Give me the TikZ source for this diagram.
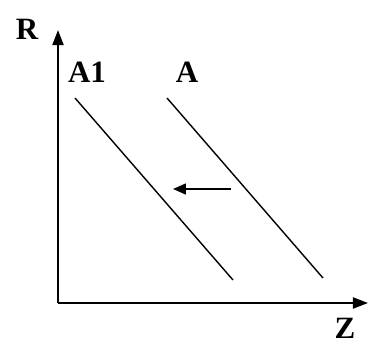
\documentclass[tikz,border=0pt]{standalone}
\usepackage{fontspec}
\setmainfont{Liberation Serif}
\usetikzlibrary{arrows.meta}
\begin{document}
\begin{tikzpicture}[x=1pt,y=-1pt,
  lbl/.style={font=\fontsize{31}{33}\selectfont\bfseries, inner sep=0pt},
  axis/.style={line width=2pt, -{Triangle[length=15pt,width=11pt]}},
  curve/.style={line width=1.4pt}]
\useasboundingbox (0,0) rectangle (368,346);
\coordinate (origin) at (58,303);
\coordinate (rtop) at (58,30);
\coordinate (zend) at (368,303);
\draw[axis] (origin) -- (rtop);
\draw[axis] (origin) -- (zend);
\node[lbl] (r) at (27,29) {R};
\node[lbl] (z) at (345,328) {Z};
\node[lbl] (a1) at (87,72) {A1};
\node[lbl] (a) at (187,72) {A};
\coordinate (a1top) at (75,98);
\coordinate (a1bot) at (233,280);
\coordinate (atop) at (167,98);
\coordinate (abot) at (323,278);
\draw[curve] (a1top) -- (a1bot);
\draw[curve] (atop) -- (abot);
\coordinate (shiftfrom) at (231,189);
\coordinate (shiftto) at (173,189);
\draw[line width=1.6pt, -{Triangle[length=13pt,width=11pt]}] (shiftfrom) -- (shiftto);
\end{tikzpicture}
\end{document}
